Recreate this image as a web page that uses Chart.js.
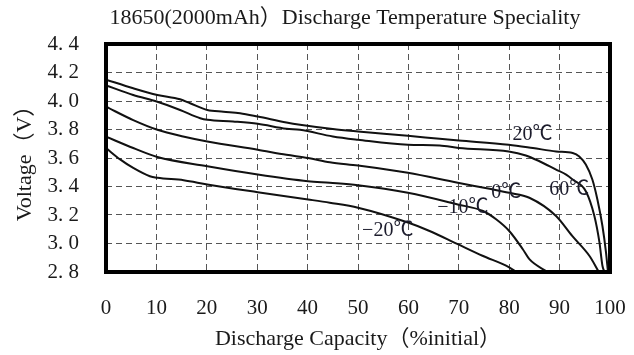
<!DOCTYPE html>
<html>
<head>
<meta charset="utf-8">
<script src="https://cdn.jsdelivr.net/npm/chart.js@4.4.0/dist/chart.umd.min.js"></script>
<style>
  html, body { margin: 0; padding: 0; background: #fff; }
  #wrap { width: 634px; height: 355px; }
</style>
</head>
<body>
<div id="wrap"><canvas id="dischargeChart" width="634" height="355"></canvas></div>
<script>
// values
const xTicks = [0, 10, 20, 30, 40, 50, 60, 70, 80, 90, 100];
const yTickLabels = ['2. 8', '3. 0', '3. 2', '3. 4', '3. 6', '3. 8', '4. 0', '4. 2', '4. 4'];

const cap20 = [0, 5.4, 10.2, 14.7, 16.7, 20.1, 23.3, 26.6, 30.1, 35.8, 38.5, 45, 50, 59.9, 66.2, 70, 79.9, 84.7, 89.3, 92.6, 93.9, 95.2, 96.5, 97.5, 98.5, 99.2, 99.6];
const volt20 = [4.15, 4.089, 4.042, 4.012, 3.984, 3.937, 3.925, 3.914, 3.891, 3.849, 3.833, 3.803, 3.786, 3.756, 3.735, 3.723, 3.693, 3.67, 3.646, 3.635, 3.611, 3.554, 3.449, 3.309, 3.123, 2.94, 2.8];

const cap60 = [0, 5.4, 10.2, 14.7, 18.7, 20.1, 25.2, 30.1, 35.8, 38.5, 45, 50, 59.9, 66.2, 70, 79.9, 83.3, 86, 89.3, 91.3, 92.6, 95.2, 96.9, 97.9, 98.5, 98.9];
const volt60 = [4.11, 4.042, 3.995, 3.937, 3.879, 3.868, 3.856, 3.84, 3.805, 3.798, 3.751, 3.728, 3.693, 3.688, 3.67, 3.646, 3.618, 3.577, 3.519, 3.484, 3.449, 3.367, 3.193, 3.009, 2.844, 2.8];

const cap0 = [0, 5.4, 10.2, 15.3, 20.1, 30.1, 35.8, 40.1, 44.4, 50, 59.9, 69.8, 76.1, 80, 84, 89.3, 92.5, 95.9, 97.8];
const volt0 = [3.96, 3.866, 3.798, 3.751, 3.716, 3.658, 3.623, 3.6, 3.57, 3.547, 3.496, 3.426, 3.384, 3.356, 3.321, 3.193, 3.053, 2.914, 2.8];

const capM10 = [0, 5.4, 10.2, 20.1, 30.1, 40.1, 44.4, 50, 59.9, 69.8, 74.8, 77.4, 80, 82.7, 84, 87.6];
const voltM10 = [3.75, 3.67, 3.607, 3.542, 3.484, 3.437, 3.426, 3.409, 3.356, 3.274, 3.228, 3.17, 3.088, 2.96, 2.89, 2.8];

const capM20 = [0, 2.8, 5.4, 8.7, 10.2, 15.4, 20.1, 30.1, 40.1, 44.4, 50, 59.9, 64.2, 69.8, 74.7, 80, 81.4];
const voltM20 = [3.67, 3.59, 3.53, 3.472, 3.461, 3.444, 3.414, 3.36, 3.309, 3.286, 3.251, 3.147, 3.088, 2.995, 2.914, 2.833, 2.8];

const seriesNames = ['20℃', '60℃', '0℃', '−10℃', '−20℃'];
// where each temperature label sits, in data units (capacity %, volts)
const labelCap = [84.6, 91.9, 79.4, 70.8, 55.9];
const labelVolt = [3.763, 3.379, 3.356, 3.251, 3.088];

const serif = "'Liberation Serif', 'Noto Sans CJK SC', serif";

function toPoints(xs, ys) {
    return xs.map(function (x, i) { return { x: x, y: ys[i] }; });
}

const curves = [[cap20, volt20], [cap60, volt60], [cap0, volt0], [capM10, voltM10], [capM20, voltM20]];

// frame, title and temperature labels
const decorPlugin = {
    id: 'decor',
    afterDraw: function (chart) {
        const ctx = chart.ctx;
        const a = chart.chartArea;
        ctx.save();
        ctx.strokeStyle = '#000';
        ctx.lineWidth = 4;
        ctx.strokeRect(a.left, a.top, a.right - a.left, a.bottom - a.top);

        ctx.fillStyle = '#1a1a1a';
        ctx.font = '22px ' + serif;
        ctx.textAlign = 'center';
        ctx.textBaseline = 'middle';
        ctx.fillText('18650(2000mAh）Discharge Temperature Speciality', 345, 18);

        ctx.font = '20px ' + serif;
        ctx.fillStyle = '#1c1c2c';
        seriesNames.forEach(function (name, i) {
            const px = chart.scales.x.getPixelForValue(labelCap[i]);
            const py = chart.scales.y.getPixelForValue(labelVolt[i]);
            ctx.fillText(name, px, py);
        });
        ctx.restore();
    }
};

function renderChart() {
    const ctx = document.getElementById('dischargeChart').getContext('2d');
    new Chart(ctx, {
        type: 'line',
        data: {
            datasets: curves.map(function (c, i) {
                return {
                    label: seriesNames[i],
                    data: toPoints(c[0], c[1]),
                    borderColor: '#111',
                    borderWidth: 2,
                    pointRadius: 0,
                    fill: false,
                    cubicInterpolationMode: 'monotone'
                };
            })
        },
        options: {
            responsive: false,
            animation: false,
            layout: { padding: { top: 44, right: 24, left: 0, bottom: 0 } },
            plugins: {
                legend: { display: false },
                tooltip: { enabled: false }
            },
            scales: {
                x: {
                    type: 'linear',
                    min: 0,
                    max: 100,
                    afterBuildTicks: function (scale) {
                        scale.ticks = xTicks.map(function (v) { return { value: v }; });
                    },
                    afterFit: function (scale) {
                        scale.height = 83;
                        scale.paddingLeft = 0;
                        scale.paddingRight = 0;
                    },
                    grid: { color: '#555', lineWidth: 1, drawTicks: false },
                    border: { display: false, dash: [6, 4] },
                    ticks: {
                        padding: 24,
                        maxRotation: 0,
                        color: '#1a1a1a',
                        font: { family: serif, size: 21 }
                    },
                    title: {
                        display: true,
                        text: 'Discharge Capacity（%initial）',
                        color: '#1a1a1a',
                        padding: { top: 0, bottom: 3 },
                        font: { family: serif, size: 22 }
                    }
                },
                y: {
                    min: 2.8,
                    max: 4.4,
                    ticks: {
                        stepSize: 0.2,
                        padding: 27,
                        color: '#1a1a1a',
                        font: { family: serif, size: 21 },
                        callback: function (v, i) { return yTickLabels[i]; }
                    },
                    afterFit: function (scale) { scale.width = 106; },
                    grid: { color: '#555', lineWidth: 1, drawTicks: false },
                    border: { display: false, dash: [6, 4] },
                    title: {
                        display: true,
                        text: 'Voltage（V）',
                        color: '#1a1a1a',
                        padding: { top: 12, bottom: 0 },
                        font: { family: serif, size: 22 }
                    }
                }
            }
        },
        plugins: [decorPlugin]
    });
}

window.onload = renderChart;
</script>
</body>
</html>
